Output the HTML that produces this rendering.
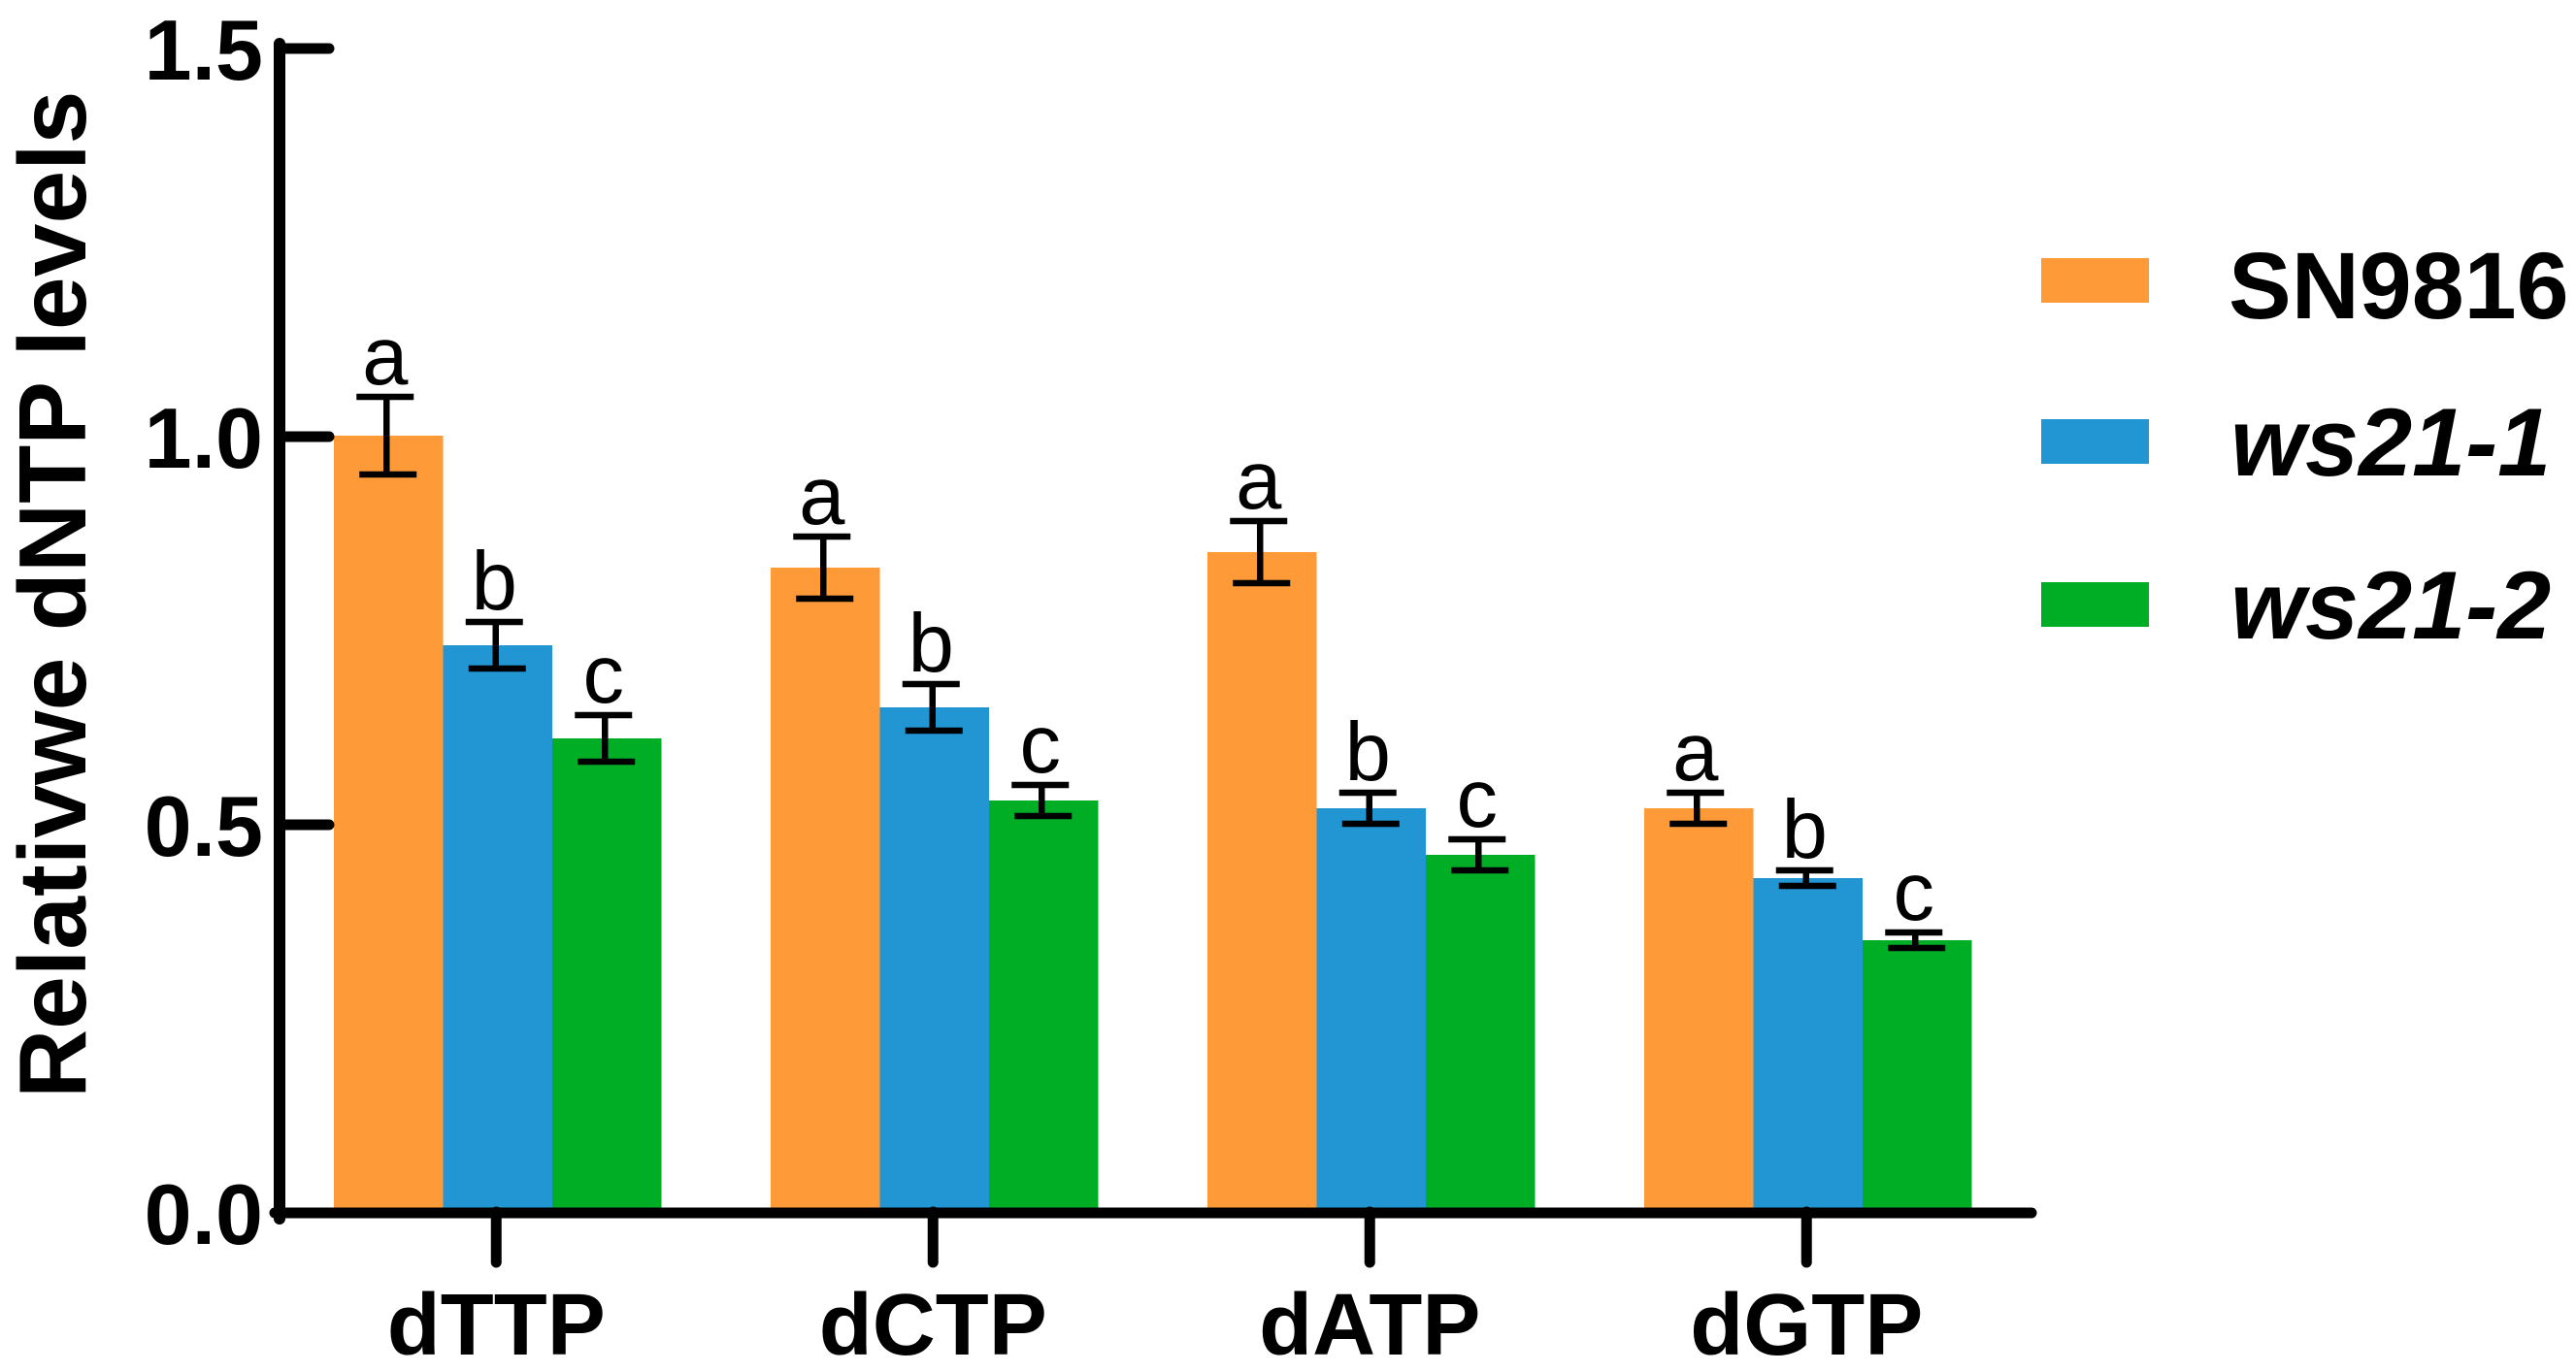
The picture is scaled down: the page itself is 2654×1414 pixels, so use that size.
<!DOCTYPE html>
<html lang="en">
<head>
<meta charset="utf-8">
<title>Relative dNTP levels</title>
<style>
  html, body { margin: 0; padding: 0; background: #ffffff; }
  svg { display: block; font-family: "Liberation Sans", Arial, sans-serif; }
</style>
</head>
<body>
<svg id="chart" xmlns="http://www.w3.org/2000/svg" width="2654" height="1414" viewBox="0 0 2654 1414">
  <rect x="0" y="0" width="2654" height="1414" fill="#ffffff"/>
  <text transform="translate(88 1132) rotate(-90)" font-size="98.5" font-weight="700" fill="#000">Relativwe dNTP levels</text>
  <g>
    <g>
      <rect x="2103" y="266" width="111" height="46" fill="#FE9A38"/>
      <text x="2296" y="328" font-size="97" font-weight="700" fill="#000">SN9816</text>
    </g>
    <g>
      <rect x="2103" y="432" width="111" height="46" fill="#2296D3"/>
      <text x="2298" y="490" font-size="99" font-weight="700" font-style="italic" fill="#000">ws21-1</text>
    </g>
    <g>
      <rect x="2103" y="600" width="111" height="46" fill="#00AE26"/>
      <text x="2298" y="658" font-size="99" font-weight="700" font-style="italic" fill="#000">ws21-2</text>
    </g>
  </g>
</svg>
<script>
const categories = ["dTTP", "dCTP", "dATP", "dGTP"];
const seriesNames = ["SN9816", "ws21-1", "ws21-2"];
const sn9816Values = [1.0, 0.83, 0.85, 0.52];
const ws211Values = [0.73, 0.65, 0.52, 0.43];
const ws212Values = [0.61, 0.53, 0.46, 0.35];
const sn9816Errors = [0.05, 0.04, 0.04, 0.02];
const ws211Errors = [0.03, 0.03, 0.02, 0.01];
const ws212Errors = [0.03, 0.02, 0.02, 0.01];
const significanceLetters = ["a", "b", "c"];
const yTickValues = [0, 0.5, 1.0, 1.5];
const yTickLabels = ["0.0", "0.5", "1.0", "1.5"];

const svg = document.getElementById("chart");
const SVG_NS = "http://www.w3.org/2000/svg";
const seriesValues = [sn9816Values, ws211Values, ws212Values];
const seriesErrors = [sn9816Errors, ws211Errors, ws212Errors];
const seriesColors = ["#FE9A38", "#2296D3", "#00AE26"];

const BASE_Y = 1249;
const UNITS_TO_PX = 800;
const FIRST_GROUP_X = 344;
const GROUP_STEP = 450;
const BAR_WIDTH = 112.5;

function yScale(value) {
  return BASE_Y - value * UNITS_TO_PX;
}
function groupCenter(groupIndex) {
  return FIRST_GROUP_X + BAR_WIDTH * 1.5 + groupIndex * GROUP_STEP;
}
function barLeft(groupIndex, seriesIndex) {
  return FIRST_GROUP_X + groupIndex * GROUP_STEP + seriesIndex * BAR_WIDTH;
}
function make(tag, attrs, parent) {
  const el = document.createElementNS(SVG_NS, tag);
  for (const key in attrs) {
    el.setAttribute(key, attrs[key]);
  }
  parent.appendChild(el);
  return el;
}
function slug(text) {
  return text.toLowerCase().replace(/[^a-z0-9]+/g, "-");
}

const barsGroup = make("g", {}, svg);


const errorsGroup = make("g", {}, svg);


const lettersGroup = make("g", {}, svg);


const axesGroup = make("g", {}, svg);



categories.forEach(function (category, g) {
  seriesNames.forEach(function (name, s) {
    const value = seriesValues[s][g];
    const err = seriesErrors[s][g];
    const left = barLeft(g, s);
    const center = left + BAR_WIDTH / 2;
    const markId = slug(category) + "-" + slug(name);

    const bar = make("rect", {
      x: left,
      y: yScale(value),
      width: BAR_WIDTH,
      height: BASE_Y - yScale(value),
      fill: seriesColors[s]
    }, barsGroup);
    
    

    const errBar = make("g", {
      stroke: "#000",
      "stroke-width": 6.5,
      fill: "none"
    }, errorsGroup);
    
    
    make("line", { x1: center - 2, x2: center - 2, y1: yScale(value + err), y2: yScale(value - err) }, errBar);
    make("line", { x1: center - 33, x2: center + 26, y1: yScale(value + err), y2: yScale(value + err) }, errBar);
    make("line", { x1: center - 30, x2: center + 29, y1: yScale(value - err), y2: yScale(value - err) }, errBar);

    const letter = make("text", {
      x: center - 3.5,
      y: yScale(value + err) - 13,
      "font-size": 85,
      "text-anchor": "middle",
      fill: "#000"
    }, lettersGroup);
    letter.textContent = significanceLetters[s];
    
    
  });

  const xTick = make("line", {
    x1: groupCenter(g) - 1.5,
    x2: groupCenter(g) - 1.5,
    y1: BASE_Y,
    y2: 1301,
    stroke: "#000",
    "stroke-width": 11,
    "stroke-linecap": "round"
  }, axesGroup);
  
  

  const xLabel = make("text", {
    x: groupCenter(g) - 1.5,
    y: 1396,
    "font-size": 90,
    "font-weight": 700,
    "text-anchor": "middle",
    fill: "#000"
  }, axesGroup);
  xLabel.textContent = category;
  
  
});

yTickValues.forEach(function (tickValue, i) {
  const yTick = make("line", {
    x1: 288,
    x2: 339,
    y1: yScale(tickValue) + 1,
    y2: yScale(tickValue) + 1,
    stroke: "#000",
    "stroke-width": 11,
    "stroke-linecap": "round"
  }, axesGroup);
  
  

  const yLabel = make("text", {
    x: 271,
    y: yScale(tickValue) + 33,
    "font-size": 88,
    "font-weight": 700,
    "text-anchor": "end",
    fill: "#000"
  }, axesGroup);
  yLabel.textContent = yTickLabels[i];
  
  
});

const yAxisLine = make("line", {
  x1: 288,
  x2: 288,
  y1: yScale(1.5) - 4,
  y2: BASE_Y + 7,
  stroke: "#000",
  "stroke-width": 12,
  "stroke-linecap": "round"
}, axesGroup);



const xAxisLine = make("line", {
  x1: 283,
  x2: 2093,
  y1: BASE_Y + 1,
  y2: BASE_Y + 1,
  stroke: "#000",
  "stroke-width": 11,
  "stroke-linecap": "round"
}, axesGroup);


</script>
</body>
</html>
